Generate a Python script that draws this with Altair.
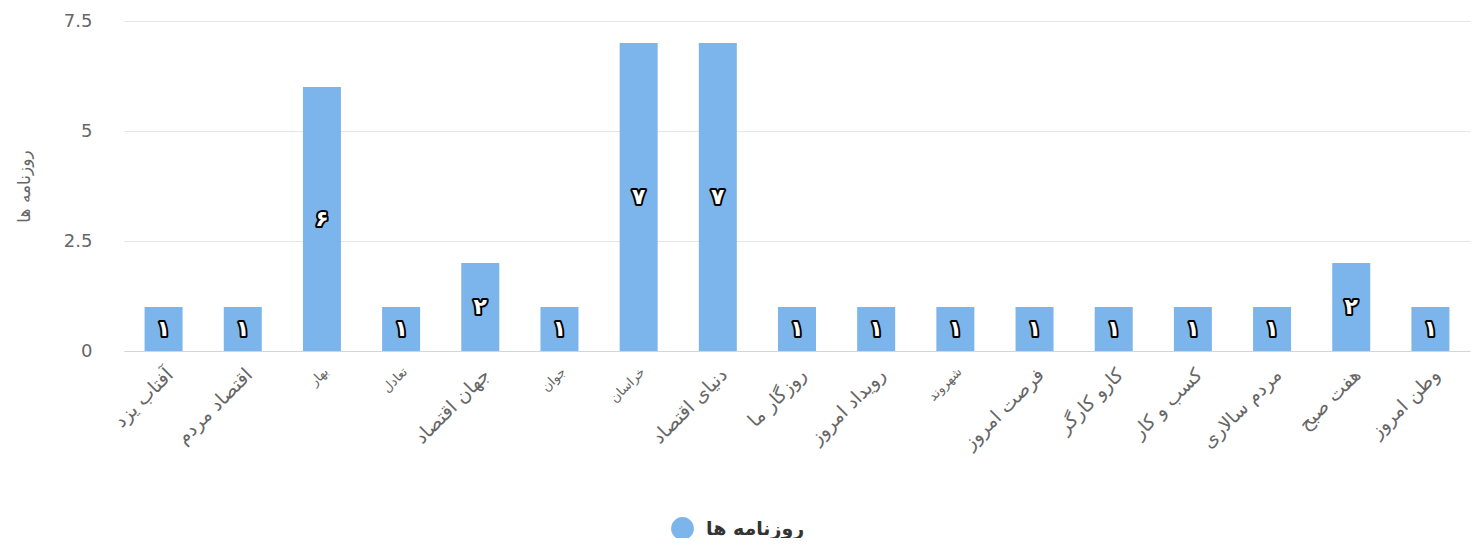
import altair as alt
import pandas as pd

categories = ["آفتاب یزد", "اقتصاد مردم", "بهار", "تعادل", "جهان  اقتصاد", "جوان", "خراسان",
              "دنیای اقتصاد", "روزگار ما", "رویداد امروز", "شهروند", "فرصت امروز", "کارو کارگر",
              "کسب و کار", "مردم سالاری", "هفت صبح", "وطن امروز"]
values = [1, 1, 6, 1, 2, 1, 7, 7, 1, 1, 1, 1, 1, 1, 1, 2, 1]
value_labels = ["۱", "۱", "۶", "۱", "۲", "۱", "۷", "۷", "۱", "۱", "۱", "۱", "۱", "۱", "۱", "۲", "۱"]
series_name = "روزنامه ها"
small_labels = ["بهار", "تعادل", "جوان", "خراسان", "شهروند"]
y_ticks = [0, 2.5, 5, 7.5]

df = pd.DataFrame({"cat": categories, "val": values, "lab": value_labels,
                   "series": [series_name] * len(categories)})

FONT = "DejaVu Sans"

x = alt.X("cat:N", sort=None, title=None,
          scale=alt.Scale(paddingInner=0, paddingOuter=0),
          axis=alt.Axis(labelAngle=-45, labelColor="#666666", labelFont=FONT,
                        labelFontSize=alt.expr("indexof(" + str(small_labels) + ", datum.label) >= 0 ? 13 : 19"),
                        domainColor="#ccd6eb", ticks=False, labelPadding=14,
                        grid=False, labelOverlap=False))

y_scale = alt.Scale(domain=[0, 7.5], nice=False)
y_axis = alt.Axis(values=y_ticks, labelExpr="toString(datum.value)", labelColor="#666666",
                  labelFontSize=18, labelFont=FONT, labelPadding=32,
                  titleColor="#666666", titleFontSize=17, titleFont=FONT,
                  titleFontWeight="normal", titlePadding=30,
                  domain=False, ticks=False, gridColor="#e6e6e6")

bars = alt.Chart(df).mark_bar(size=38, color="#7cb5ec").encode(
    x=x,
    y=alt.Y("val:Q", title=series_name, scale=y_scale, axis=y_axis),
    color=alt.Color("series:N", scale=alt.Scale(range=["#7cb5ec"]),
                    legend=alt.Legend(title=None, orient="none", legendX=547, legendY=496,
                                      symbolType="circle", symbolSize=520, symbolOpacity=1,
                                      symbolStrokeWidth=0, labelOffset=12,
                                      labelFontSize=19, labelFontWeight="bold",
                                      labelColor="#333333", labelFont=FONT)),
)

text_base = alt.Chart(df).transform_calculate(mid="datum.val / 2").encode(
    x=x,
    y=alt.Y("mid:Q", title=series_name, scale=y_scale, axis=y_axis),
    text="lab:N",
)
outline = text_base.mark_text(font=FONT, fontSize=22, fontWeight="bold", stroke="#000000",
                              strokeWidth=4, fill="#000000", baseline="middle", strokeJoin="round")
inner = text_base.mark_text(font=FONT, fontSize=22, fontWeight="bold", fill="#ffffff",
                            baseline="middle")

chart = alt.layer(bars, outline, inner).properties(
    width=1346, height=330,
    padding={"left": 116, "top": 13, "right": 4, "bottom": 187},
    autosize=alt.AutoSizeParams(type="none"),
).configure_view(stroke=None)

chart.save("out.html", embed_options={"renderer": "svg", "actions": False})
